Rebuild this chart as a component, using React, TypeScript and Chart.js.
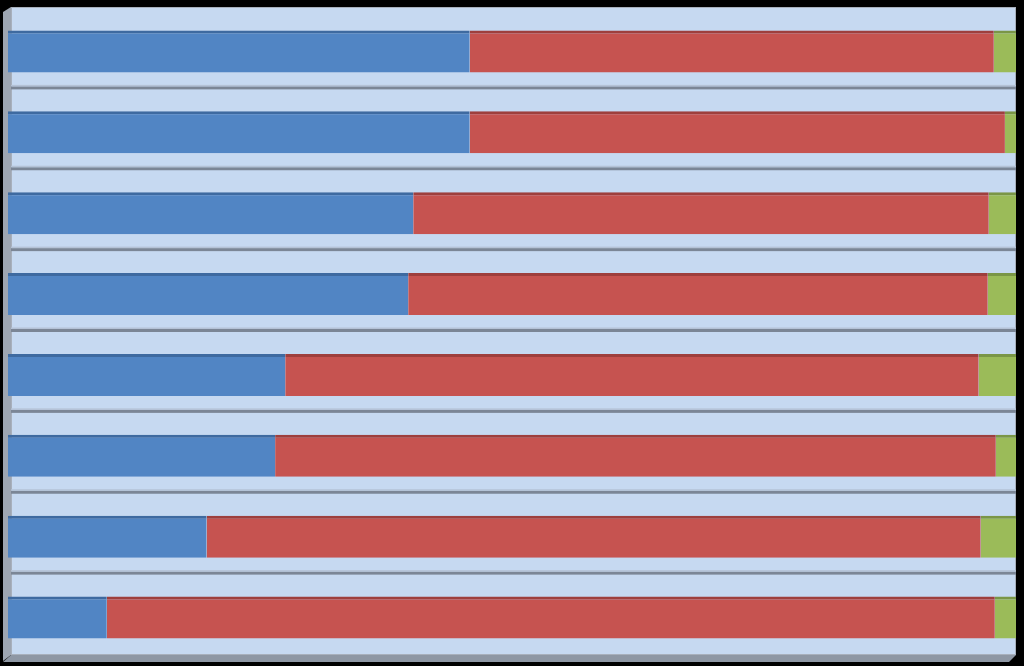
import React, { useEffect, useRef } from "react";
import { Chart, registerables } from "chart.js";

Chart.register(...registerables);

const categories = ["1", "2", "3", "4", "5", "6", "7", "8"];
const seriesBlue = [45.8, 45.8, 40.2, 39.7, 27.5, 26.5, 19.7, 9.8];
const seriesRed = [52.0, 53.1, 57.1, 57.5, 68.8, 71.5, 76.8, 88.1];
const seriesGreen = [2.2, 1.1, 2.7, 2.8, 3.7, 2.0, 3.5, 2.1];

const SHIFT = 4;

const backdrop = {
  id: "backdrop",
  beforeDraw(chart: any) {
    const { ctx, chartArea: a } = chart;
    const top = a.top - SHIFT;
    const bottom = a.bottom - SHIFT + 1;
    const left = a.left + 3;
    ctx.save();
    ctx.fillStyle = "#000";
    ctx.fillRect(0, 0, chart.width, chart.height);
    // left wall
    ctx.fillStyle = "#9ea6b2";
    ctx.beginPath();
    ctx.moveTo(left - 8, top + 5);
    ctx.lineTo(left, top);
    ctx.lineTo(left, bottom);
    ctx.lineTo(left - 8, bottom + 6);
    ctx.closePath();
    ctx.fill();
    // floor
    ctx.fillStyle = "#8e97a4";
    ctx.beginPath();
    ctx.moveTo(left, bottom);
    ctx.lineTo(a.right, bottom);
    ctx.lineTo(a.right - 7, bottom + 7);
    ctx.lineTo(left - 8, bottom + 7);
    ctx.closePath();
    ctx.fill();
    ctx.fillStyle = "#c6d9f1";
    ctx.fillRect(left, top, a.right - left, bottom - top);
    ctx.strokeStyle = "#a8b0bc";
    ctx.lineWidth = 1;
    ctx.strokeRect(left + 0.5, top + 0.5, a.right - left - 1, bottom - top - 1);
    // gridlines between categories
    const y = chart.scales.y;
    const n = categories.length;
    for (let i = 1; i < n; i++) {
      const yy = (y.getPixelForValue(i - 1) + y.getPixelForValue(i)) / 2 - SHIFT;
      ctx.fillStyle = "#7b8696";
      ctx.fillRect(left, yy - 1.5, a.right - left, 3);
      ctx.fillStyle = "#b4c2d6";
      ctx.fillRect(left, yy - 3, a.right - left, 1.5);
    }
    ctx.restore();
  },
};

export default function App() {
  const ref = useRef<HTMLCanvasElement>(null);
  useEffect(() => {
    document.body.style.margin = "0";
    document.body.style.background = "#000";
    const mk = (label: string, data: number[], bg: string, bd: string) => ({
      label,
      data,
      backgroundColor: bg,
      borderColor: bd,
      borderWidth: { top: 3, left: 0, right: 0, bottom: 0 },
      borderSkipped: false as any,
      barPercentage: 0.52,
      categoryPercentage: 1,
    });
    const chart = new Chart(ref.current!, {
      type: "bar",
      data: {
        labels: categories,
        datasets: [
          mk("A", seriesBlue, "#5185c4", "#3e6aa0"),
          mk("B", seriesRed, "#c65350", "#9e3f3d"),
          mk("C", seriesGreen, "#9bbb59", "#7a9646"),
        ],
      },
      options: {
        indexAxis: "y",
        responsive: false,
        animation: false,
        devicePixelRatio: 1,
        layout: { padding: { left: 8, right: 8, top: 11, bottom: 8 } },
        plugins: { legend: { display: false }, tooltip: { enabled: false } },
        scales: {
          x: { stacked: true, min: 0, max: 100, display: false },
          y: {
            stacked: true,
            display: false,
          },
        },
      },
      plugins: [backdrop],
    });
    return () => chart.destroy();
  }, []);
  return (
    <div style={{ width: 1024, height: 666, background: "#000" }}>
      <canvas ref={ref} width={1024} height={666} />
    </div>
  );
}
